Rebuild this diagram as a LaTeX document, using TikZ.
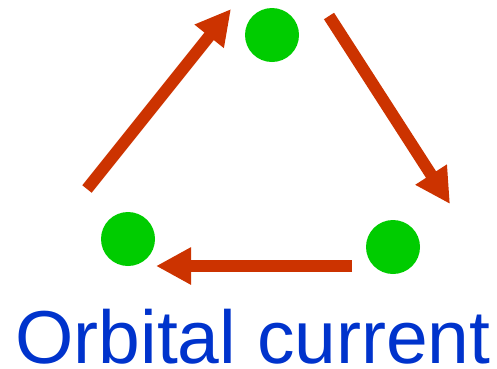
\documentclass[tikz,border=0pt]{standalone}
\usepackage{fontspec}
\setmainfont{Liberation Sans}
\usetikzlibrary{arrows.meta}
\definecolor{dotgreen}{HTML}{00CC00}
\definecolor{arrowred}{HTML}{CC3300}
\definecolor{textblue}{HTML}{0033CC}
\tikzset{
  site/.style={circle, fill=dotgreen, minimum size=54pt, inner sep=0pt},
  flow/.style={arrowred, line width=12pt, -{Triangle[length=35pt, width=35pt]}}
}
\begin{document}
\begin{tikzpicture}[x=1pt, y=-1pt]
    \useasboundingbox (0,0) rectangle (497,368);

    % 三个格点
    \node[site] (top) at (272,35) {};
    \node[site] (left) at (128,239) {};
    \node[site] (right) at (393,247) {};

    % 箭头端点
    \coordinate (a1) at (87,189);
    \coordinate (b1) at (231,9);
    \coordinate (a2) at (329,16);
    \coordinate (b2) at (450,204);
    \coordinate (a3) at (352,266);
    \coordinate (b3) at (156,266);

    % 环流箭头
    \draw[flow] (a1) -- (b1);
    \draw[flow] (a2) -- (b2);
    \draw[flow] (a3) -- (b3);

    % 标题
    \node[anchor=base, text=textblue, font=\fontsize{75}{80}\selectfont, inner sep=0pt] (label) at (253,363) {Orbital current};
\end{tikzpicture}
\end{document}
